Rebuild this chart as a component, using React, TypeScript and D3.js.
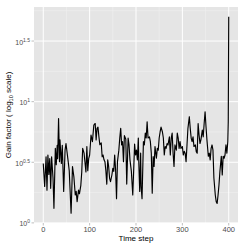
import React, { useEffect, useRef } from "react";
import * as d3 from "d3";

// time steps (x) and log10 gain at each (y)
const timeSteps = [
  0, 3, 6, 8, 10, 12, 14, 16, 18, 21, 23, 26, 28, 30, 31, 33, 35, 36, 39, 41,
  44, 47, 49, 53, 56, 60, 63, 66, 69, 71, 73, 76, 78, 81, 83, 85, 88, 92, 94, 96,
  98, 100, 103, 106, 109, 112, 114, 116, 118, 120, 122, 125, 127, 129, 131, 133, 135, 137, 139, 141,
  143, 145, 148, 150, 152, 154, 156, 158, 160, 163, 165, 167, 169, 171, 173, 175, 178, 180, 183, 185,
  187, 190, 193, 195, 197, 199, 201, 203, 205, 206, 208, 210, 211, 213, 216, 218, 220, 222, 224, 226,
  229, 231, 233, 235, 237, 239, 241, 244, 246, 248, 250, 252, 254, 257, 259, 261, 263, 265, 267, 269,
  272, 274, 276, 278, 280, 282, 284, 287, 289, 291, 293, 295, 297, 300, 302, 304, 306, 308, 310, 312,
  315, 317, 319, 321, 323, 325, 328, 330, 332, 334, 336, 338, 340, 343, 345, 347, 349, 351, 353, 356,
  358, 360, 362, 364, 366, 368, 371, 373, 375, 377, 379, 381, 384, 386, 388, 390, 392, 394, 396, 398,
  399, 400,
];

const gainLog10 = [
  0.49, 0.3, 0.545, 0.27, 0.56, 0.4, 0.53, 0.285, 0.545, 0.37, 0.12, 0.615, 0.48, 0.64, 0.53, 0.86, 0.505, 0.685, 0.49, 0.64,
  0.26, 0.6, 0.655, 0.53, 0.43, 0.08, 0.465, 0.38, 0.23, 0.26, 0.175, 0.27, 0.24, 0.31, 0.42, 0.615, 0.575, 0.42, 0.63, 0.43,
  0.53, 0.56, 0.725, 0.67, 0.806, 0.82, 0.685, 0.78, 0.79, 0.71, 0.645, 0.66, 0.545, 0.56, 0.52, 0.505, 0.43, 0.32, 0.52, 0.465,
  0.37, 0.34, 0.395, 0.45, 0.425, 0.56, 0.435, 0.2, 0.505, 0.6, 0.7, 0.78, 0.643, 0.67, 0.505, 0.72, 0.69, 0.32, 0.7, 0.643,
  0.52, 0.425, 0.23, 0.435, 0.65, 0.56, 0.6, 0.52, 0.7, 0.505, 0.26, 0.575, 0.3, 0.2, 0.67, 0.643, 0.74, 0.7, 0.834, 0.7,
  0.71, 0.67, 0.575, 0.245, 0.546, 0.465, 0.63, 0.533, 0.615, 0.6, 0.7, 0.75, 0.79, 0.75, 0.7, 0.56, 0.63, 0.615, 0.655, 0.643,
  0.71, 0.56, 0.7, 0.74, 0.575, 0.465, 0.643, 0.6, 0.74, 0.7, 0.615, 0.67, 0.615, 0.63, 0.56, 0.59, 0.575, 0.505, 0.643, 0.78,
  0.876, 0.78, 0.7, 0.67, 0.71, 0.63, 0.643, 0.588, 0.575, 0.82, 0.725, 0.655, 0.685, 0.765, 0.71, 0.82, 0.917, 0.793, 0.685, 0.55,
  0.575, 0.52, 0.615, 0.643, 0.6, 0.37, 0.23, 0.175, 0.16, 0.23, 0.315, 0.425, 0.55, 0.395, 0.55, 0.533, 0.56, 0.643, 0.575, 0.67,
  0.834, 1.7,
];

const xBreaks = [0, 100, 200, 300, 400];
const xMinor = [50, 150, 250, 350];
const yBreaks = ["0", "0.5", "1", "1.5"];
const yMinor = [0.25, 0.75, 1.25, 1.75];

const W = 245;
const H = 245;
const FONT = "'Liberation Sans', Arial, sans-serif";

// ggplot-style 5% expansion
const expand = (lo: number, hi: number): [number, number] => {
  const d = (hi - lo) * 0.05;
  return [lo - d, hi + d];
};

const GainChart = () => {
  const ref = useRef<SVGSVGElement>(null);

  useEffect(() => {
    const svg = d3.select(ref.current);
    svg.selectAll("*").remove();

    const panel = { left: 34, right: 238, top: 7, bottom: 223 };

    const x = d3
      .scaleLinear()
      .domain(expand(d3.min(timeSteps)!, d3.max(timeSteps)!))
      .range([panel.left, panel.right]);
    const y = d3
      .scaleLinear()
      .domain(expand(d3.min(gainLog10)!, d3.max(gainLog10)!))
      .range([panel.bottom, panel.top]);

    svg
      .append("rect")
      .attr("width", W)
      .attr("height", H)
      .attr("fill", "#ffffff");

    svg
      .append("rect")
      .attr("x", panel.left)
      .attr("y", panel.top)
      .attr("width", panel.right - panel.left)
      .attr("height", panel.bottom - panel.top)
      .attr("fill", "#e5e5e5");

    // minor grid
    svg
      .selectAll("line.xminor")
      .data(xMinor)
      .join("line")
      .attr("x1", (d) => x(d))
      .attr("x2", (d) => x(d))
      .attr("y1", panel.top)
      .attr("y2", panel.bottom)
      .attr("stroke", "#f2f2f2")
      .attr("stroke-width", 0.5);
    svg
      .selectAll("line.yminor")
      .data(yMinor.filter((d) => y(d) > panel.top))
      .join("line")
      .attr("x1", panel.left)
      .attr("x2", panel.right)
      .attr("y1", (d) => y(d))
      .attr("y2", (d) => y(d))
      .attr("stroke", "#f2f2f2")
      .attr("stroke-width", 0.5);

    // major grid
    svg
      .selectAll("line.xmajor")
      .data(xBreaks)
      .join("line")
      .attr("x1", (d) => x(d))
      .attr("x2", (d) => x(d))
      .attr("y1", panel.top)
      .attr("y2", panel.bottom)
      .attr("stroke", "#ffffff")
      .attr("stroke-width", 1);
    svg
      .selectAll("line.ymajor")
      .data(yBreaks)
      .join("line")
      .attr("x1", panel.left)
      .attr("x2", panel.right)
      .attr("y1", (d) => y(+d))
      .attr("y2", (d) => y(+d))
      .attr("stroke", "#ffffff")
      .attr("stroke-width", 1);

    // the series
    const line = d3
      .line<number>()
      .x((_, i) => x(timeSteps[i]))
      .y((d) => y(d));
    svg
      .append("path")
      .datum(gainLog10)
      .attr("d", line)
      .attr("fill", "none")
      .attr("stroke", "#000000")
      .attr("stroke-width", 1.15)
      .attr("stroke-linejoin", "round");

    // x axis
    const xa = svg.append("g");
    xa.selectAll("line")
      .data(xBreaks)
      .join("line")
      .attr("x1", (d) => x(d))
      .attr("x2", (d) => x(d))
      .attr("y1", panel.bottom)
      .attr("y2", panel.bottom + 2.5)
      .attr("stroke", "#7f7f7f")
      .attr("stroke-width", 0.5);
    xa.selectAll("text")
      .data(xBreaks)
      .join("text")
      .attr("x", (d) => x(d))
      .attr("y", panel.bottom + 9)
      .attr("text-anchor", "middle")
      .style("font-family", FONT)
      .style("font-size", "7.5px")
      .style("fill", "#4d4d4d")
      .text((d) => d);

    // y axis, labels as 10^k
    const ya = svg.append("g");
    ya.selectAll("line")
      .data(yBreaks)
      .join("line")
      .attr("x1", panel.left - 2.5)
      .attr("x2", panel.left)
      .attr("y1", (d) => y(+d))
      .attr("y2", (d) => y(+d))
      .attr("stroke", "#7f7f7f")
      .attr("stroke-width", 0.5);
    const yl = ya
      .selectAll("text")
      .data(yBreaks)
      .join("text")
      .attr("x", panel.left - 4)
      .attr("y", (d) => y(+d) + 3.5)
      .attr("text-anchor", "end")
      .style("font-family", FONT)
      .style("font-size", "7px")
      .style("fill", "#4d4d4d");
    yl.append("tspan").text("10");
    yl.append("tspan")
      .attr("dy", -3)
      .style("font-size", "5px")
      .text((d) => d);

    // titles
    svg
      .append("text")
      .attr("x", (panel.left + panel.right) / 2)
      .attr("y", 241)
      .attr("text-anchor", "middle")
      .style("font-family", FONT)
      .style("font-size", "8px")
      .style("fill", "#000")
      .text("Time step");

    const yt = svg
      .append("text")
      .attr("transform", `translate(11,${(panel.top + panel.bottom) / 2}) rotate(-90)`)
      .attr("text-anchor", "middle")
      .style("font-family", FONT)
      .style("font-size", "8px")
      .style("fill", "#000");
    yt.append("tspan").text("Gain factor ( log");
    yt.append("tspan").attr("dy", 2).style("font-size", "5.5px").text("10");
    yt.append("tspan").attr("dy", -2).text(" scale)");
  }, []);

  return <svg ref={ref} width={W} height={H} style={{ display: "block" }} />;
};

export default function App() {
  return (
    <div style={{ position: "absolute", left: 0, top: 0 }}>
      <GainChart />
    </div>
  );
}
